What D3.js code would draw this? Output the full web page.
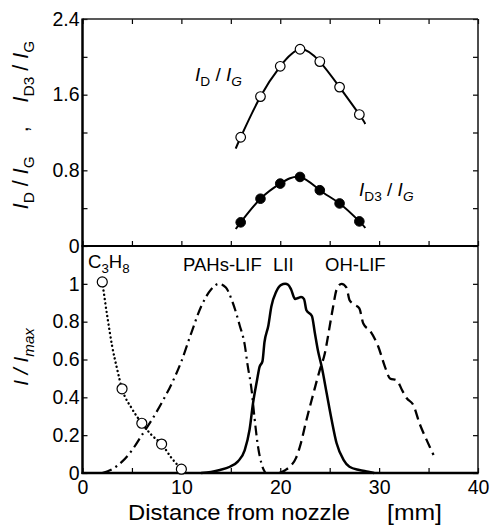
<!DOCTYPE html>
<html>
<head>
<meta charset="utf-8">
<script src="https://cdn.jsdelivr.net/npm/d3@7/dist/d3.min.js"></script>
<style>
  html, body { margin: 0; padding: 0; background: #fff; }
  svg { display: block; font-family: "Liberation Sans", Arial, Helvetica, sans-serif; }
</style>
</head>
<body>
<svg id="chart" width="492" height="526"></svg>
<script>
// ---- data -------------------------------------------------------------
// x positions (mm) of Raman measurements
const ramanX = [16, 18, 20, 22, 24, 26, 28];
const ratioDG = [1.15, 1.58, 1.90, 2.08, 1.95, 1.68, 1.39];   // I_D / I_G
const ratioD3G = [0.25, 0.50, 0.66, 0.73, 0.59, 0.45, 0.26];  // I_D3 / I_G
// smoothed trend lines through the Raman ratios
const fitDG = [[15.5, 1.03], [16, 1.15], [18, 1.58], [20, 1.90], [22, 2.08], [24, 1.95], [26, 1.68], [28, 1.39], [28.6, 1.29]];
const fitD3G = [[15.5, 0.18], [16, 0.25], [18, 0.50], [20, 0.66], [22, 0.73], [24, 0.59], [26, 0.45], [28, 0.26], [28.6, 0.19]];

// C3H8 concentration (normalised)
const c3x = [2, 4, 6, 8, 10];
const c3v = [1.01, 0.445, 0.263, 0.153, 0.02];
const c3Line = [[2, 1.01], [2.5, 0.83], [3, 0.67], [3.5, 0.55], [4, 0.445], [5, 0.34], [6, 0.263], [7, 0.2], [8, 0.153], [9, 0.08], [10, 0.02]];

// PAHs-LIF profile
const pahX = [2, 3, 4, 5, 6, 7, 8, 9, 10, 11, 12, 13, 13.8, 14.5, 15.2, 15.9, 16.4, 16.7, 17.1, 17.4, 17.75, 18.1, 18.5];
const pahV = [0.0, 0.02, 0.06, 0.12, 0.2, 0.28, 0.37, 0.47, 0.59, 0.74, 0.88, 0.97, 1.0, 0.98, 0.9, 0.78, 0.68, 0.57, 0.44, 0.29, 0.14, 0.05, 0.0];

// LII profile
const liiX = [12, 13, 13.9, 14.9, 15.7, 16.4, 16.9, 17.25, 17.65, 17.9, 18.2, 18.4, 18.8, 19.1, 19.6, 20.1, 20.5, 20.8, 21.1, 21.5, 21.8, 22.1, 22.4, 22.65, 23.2, 23.5, 23.8, 24.2, 24.7, 25.2, 25.7, 26.4, 27, 28, 28.9, 29.5];
const liiV = [0.0, 0.006, 0.016, 0.033, 0.06, 0.12, 0.23, 0.37, 0.49, 0.56, 0.59, 0.69, 0.78, 0.88, 0.96, 0.995, 1.0, 0.995, 0.97, 0.92, 0.925, 0.93, 0.92, 0.86, 0.83, 0.74, 0.65, 0.56, 0.42, 0.28, 0.157, 0.07, 0.033, 0.016, 0.007, 0.0];

// OH-LIF profile
const ohX = [19.9, 20.5, 21, 21.6, 22.1, 22.6, 23.3, 24, 24.5, 25, 25.35, 25.7, 26.2, 26.7, 27, 27.5, 28, 28.4, 29.1, 29.9, 30.6, 31.1, 31.8, 32.3, 32.8, 33.45, 34.1, 34.8, 35.5];
const ohV = [0.0, 0.015, 0.035, 0.08, 0.16, 0.27, 0.41, 0.545, 0.63, 0.775, 0.88, 0.97, 1.0, 0.98, 0.915, 0.89, 0.87, 0.79, 0.75, 0.67, 0.56, 0.5, 0.49, 0.44, 0.395, 0.36, 0.26, 0.175, 0.095];

// axis ticks
const xTicks = [0, 10, 20, 30, 40];
const xMinor = [5, 15, 25, 35];
const topTicks = [0, 0.8, 1.6, 2.4];
const topMinor = [0.4, 1.2, 2.0];
const botTicks = [0, 0.2, 0.4, 0.6, 0.8, 1];

// ---- layout -----------------------------------------------------------
const L = 82.5, R = 478, T = 19, MID = 246, B = 473;
const svg = d3.select("#chart");

const x = d3.scaleLinear().domain([0, 40]).range([L, R]);
const yTop = d3.scaleLinear().domain([0, 2.4]).range([MID, T]);
const yBot = d3.scaleLinear().domain([0, 1.2]).range([B, MID]);

const fmt = d => (d === 0 ? "0" : d3.format("")(d));
const allX = xTicks.concat(xMinor).sort((a, b) => a - b);

// tick marks / labels
function styleAxis(g) {
  g.attr("font-family", null).attr("font-size", null);
  g.select(".domain").remove();
  g.selectAll("line").attr("stroke", "#000").attr("stroke-width", 1.2);
  g.selectAll("text").attr("fill", "#000").attr("font-size", 19.5);
}

// bottom panel x axis (labels)
svg.append("g").attr("transform", `translate(0,${B})`)
  .call(d3.axisBottom(x).tickValues(allX).tickSize(-5).tickPadding(7)
    .tickFormat(d => xTicks.includes(d) ? fmt(d) : ""))
  .call(styleAxis);

// divider: ticks up into top panel
svg.append("g").attr("transform", `translate(0,${MID})`)
  .call(d3.axisBottom(x).tickValues(allX).tickSize(-5).tickFormat(""))
  .call(styleAxis);

// top edge ticks
svg.append("g").attr("transform", `translate(0,${T})`)
  .call(d3.axisTop(x).tickValues(allX).tickSize(-5).tickFormat(""))
  .call(styleAxis);

// top panel left axis
svg.append("g").attr("transform", `translate(${L},0)`)
  .call(d3.axisLeft(yTop).tickValues(topTicks.concat(topMinor)).tickSize(-5).tickPadding(3)
    .tickFormat(d => topTicks.includes(d) ? fmt(d) : ""))
  .call(styleAxis);

// bottom panel left axis
svg.append("g").attr("transform", `translate(${L},0)`)
  .call(d3.axisLeft(yBot).tickValues(botTicks).tickSize(-5).tickPadding(3).tickFormat(fmt))
  .call(styleAxis);

// right side ticks
svg.append("g").attr("transform", `translate(${R},0)`)
  .call(d3.axisRight(yTop).tickValues(topTicks.concat(topMinor)).tickSize(-5).tickFormat(""))
  .call(styleAxis);
svg.append("g").attr("transform", `translate(${R},0)`)
  .call(d3.axisRight(yBot).tickValues(botTicks).tickSize(-5).tickFormat(""))
  .call(styleAxis);

// frame
svg.append("line").attr("x1", L).attr("x2", R).attr("y1", T).attr("y2", T).attr("stroke", "#222").attr("stroke-width", 1.3);
svg.append("line").attr("x1", R).attr("x2", R).attr("y1", T).attr("y2", B).attr("stroke", "#111").attr("stroke-width", 1.5);
svg.append("line").attr("x1", L - 1).attr("x2", R).attr("y1", MID).attr("y2", MID).attr("stroke", "#000").attr("stroke-width", 2);
svg.append("line").attr("x1", L - 1).attr("x2", R + 0.7).attr("y1", B).attr("y2", B).attr("stroke", "#000").attr("stroke-width", 2.5);
svg.append("line").attr("x1", L).attr("x2", L).attr("y1", T - 0.6).attr("y2", B + 1).attr("stroke", "#000").attr("stroke-width", 2.5);

// ---- top panel: Raman ratios ------------------------------------------
const lineTop = d3.line().x(d => x(d[0])).y(d => yTop(d[1])).curve(d3.curveNatural);
svg.append("path").attr("d", lineTop(fitDG)).attr("fill", "none").attr("stroke", "#000").attr("stroke-width", 2);
svg.append("path").attr("d", lineTop(fitD3G)).attr("fill", "none").attr("stroke", "#000").attr("stroke-width", 2);

svg.append("g").selectAll("circle").data(ramanX).join("circle")
  .attr("cx", d => x(d)).attr("cy", (d, i) => yTop(ratioDG[i])).attr("r", 4.8)
  .attr("fill", "#fff").attr("stroke", "#000").attr("stroke-width", 1.2);
svg.append("g").selectAll("circle").data(ramanX).join("circle")
  .attr("cx", d => x(d)).attr("cy", (d, i) => yTop(ratioD3G[i])).attr("r", 4.8)
  .attr("fill", "#000").attr("stroke", "#000").attr("stroke-width", 1);

// ---- bottom panel: profiles -------------------------------------------
const lineBot = d3.line().x(d => x(d[0])).y(d => yBot(d[1]));

svg.append("path").attr("d", lineBot.curve(d3.curveMonotoneX)(c3Line))
  .attr("fill", "none").attr("stroke", "#000").attr("stroke-width", 2.4)
  .attr("stroke-dasharray", "0.1,4.2").attr("stroke-linecap", "round");

svg.append("path").attr("d", lineBot.curve(d3.curveMonotoneX)(pahX.map((d, i) => [d, pahV[i]])))
  .attr("fill", "none").attr("stroke", "#000").attr("stroke-width", 2.2)
  .attr("stroke-dasharray", "10,4.5,2,4.5");

svg.append("path").attr("d", lineBot.curve(d3.curveMonotoneX)(liiX.map((d, i) => [d, liiV[i]])))
  .attr("fill", "none").attr("stroke", "#000").attr("stroke-width", 2.5);

svg.append("path").attr("d", lineBot.curve(d3.curveMonotoneX)(ohX.map((d, i) => [d, ohV[i]])))
  .attr("fill", "none").attr("stroke", "#000").attr("stroke-width", 2.3)
  .attr("stroke-dasharray", "10,5.5");

svg.append("g").selectAll("circle").data(c3x).join("circle")
  .attr("cx", d => x(d)).attr("cy", (d, i) => yBot(c3v[i])).attr("r", 5)
  .attr("fill", "#fff").attr("stroke", "#000").attr("stroke-width", 1.2);

// ---- text -------------------------------------------------------------
function richText(sel, parts, size) {
  parts.forEach(p => {
    const t = sel.append("tspan").text(p.t);
    if (p.i) t.attr("font-style", "italic");
    if (p.sub) t.attr("font-size", size * 0.72).attr("dy", size * 0.28);
    else if (p.back) t.attr("dy", -size * 0.28);
  });
}

// in-panel ratio labels
richText(svg.append("text").attr("x", 195).attr("y", 81).attr("font-size", 19),
  [{t: "I", i: 1}, {t: "D", sub: 1}, {t: " / ", back: 1}, {t: "I", i: 1}, {t: "G", sub: 1, i: 1}], 19);
richText(svg.append("text").attr("x", 359).attr("y", 196).attr("font-size", 19),
  [{t: "I", i: 1}, {t: "D3", sub: 1}, {t: " / ", back: 1}, {t: "I", i: 1}, {t: "G", sub: 1, i: 1}], 19);

// species labels
richText(svg.append("text").attr("x", 88).attr("y", 268).attr("font-size", 18.5),
  [{t: "C"}, {t: "3", sub: 1}, {t: "H", back: 1}, {t: "8", sub: 1}], 18.5);
const specLabels = [{t: "PAHs-LIF", x: 183}, {t: "LII", x: 273}, {t: "OH-LIF", x: 325}];
svg.append("g").selectAll("text").data(specLabels).join("text")
  .attr("x", d => d.x).attr("y", 271).attr("font-size", 18.5).text(d => d.t);

// y axis titles
const sp = "\u00a0";
richText(svg.append("text").attr("transform", "translate(28,125) rotate(-90)")
  .attr("text-anchor", "middle").attr("font-size", 21.5),
  [{t: "I", i: 1}, {t: "D", sub: 1}, {t: sp + "/" + sp, back: 1}, {t: "I", i: 1}, {t: "G", sub: 1},
   {t: sp + sp + sp + sp + "," + sp + sp + sp + sp, back: 1}, {t: "I", i: 1}, {t: "D3", sub: 1}, {t: sp + "/" + sp, back: 1}, {t: "I", i: 1}, {t: "G", sub: 1}], 21.5);
richText(svg.append("text").attr("transform", "translate(28,357) rotate(-90)")
  .attr("text-anchor", "middle").attr("font-size", 21),
  [{t: "I" + sp + "/" + sp + "I", i: 1}, {t: "max", sub: 1, i: 1}], 21);

// x axis title
svg.append("text").attr("x", 128).attr("y", 520).attr("font-size", 22)
  .attr("textLength", 222).attr("lengthAdjust", "spacingAndGlyphs").text("Distance from nozzle");
svg.append("text").attr("x", 387).attr("y", 520).attr("font-size", 22)
  .attr("textLength", 55).attr("lengthAdjust", "spacingAndGlyphs").text("[mm]");
</script>
</body>
</html>
